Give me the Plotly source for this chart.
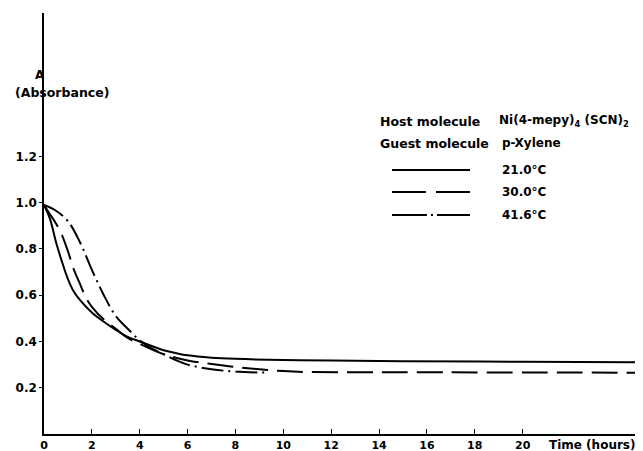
import plotly.graph_objects as go

# ---- data ----
t_21 = [0, 0.25, 0.5, 0.75, 1.0, 1.25, 1.5, 2.0, 2.5, 3.0, 3.5, 4.0, 5.0, 5.5, 6.0, 7.0, 8.0, 10, 12, 15, 20, 25]
a_21 = [0.99, 0.93, 0.83, 0.745, 0.67, 0.615, 0.58, 0.525, 0.485, 0.45, 0.42, 0.40, 0.362, 0.35, 0.34, 0.33, 0.325, 0.32, 0.318, 0.315, 0.312, 0.31]

t_30 = [0, 0.25, 0.5, 0.75, 1.0, 1.25, 1.5, 1.75, 2.0, 2.5, 3.0, 3.5, 4.0, 5.0, 6.0, 7.0, 8.0, 9.0, 10, 11, 15, 25]
a_30 = [0.99, 0.95, 0.91, 0.86, 0.79, 0.71, 0.65, 0.59, 0.55, 0.495, 0.455, 0.415, 0.39, 0.345, 0.318, 0.303, 0.29, 0.28, 0.272, 0.268, 0.267, 0.265]

t_41 = [0, 0.5, 1.0, 1.5, 2.0, 2.5, 3.0, 3.5, 4.0, 4.5, 5.0, 5.5, 6.0, 7.0, 8.0, 9.4]
a_41 = [0.99, 0.965, 0.92, 0.83, 0.71, 0.60, 0.51, 0.455, 0.405, 0.37, 0.345, 0.32, 0.30, 0.28, 0.27, 0.265]

x_ticks = [0, 2, 4, 6, 8, 10, 12, 14, 16, 18, 20]
y_ticks = [0.2, 0.4, 0.6, 0.8, 1.0, 1.2]
y_tick_labels = ["0.2", "0.4", "0.6", "0.8", "1.0", "1.2"]

series_labels = ["21.0°C", "30.0°C", "41.6°C"]
host_label = "Host molecule"
host_value = "Ni(4-mepy)<sub>4</sub> (SCN)<sub>2</sub>"
guest_label = "Guest molecule"
guest_value = "p-Xylene"

FONT = "DejaVu Sans"
dash_30 = "26px,9px"
dash_41 = "22px,5px,2px,5px"
legend_dash_30 = "34px,10px"
legend_dash_41 = "35px,4px,2px,4px"

fig = go.Figure()
fig.add_trace(go.Scatter(x=t_21, y=a_21, mode="lines", line=dict(color="black", width=2, shape="spline"), name=series_labels[0]))
fig.add_trace(go.Scatter(x=t_30, y=a_30, mode="lines", line=dict(color="black", width=2, shape="spline", dash=dash_30), name=series_labels[1]))
fig.add_trace(go.Scatter(x=t_41, y=a_41, mode="lines", line=dict(color="black", width=2, shape="spline", dash=dash_41), name=series_labels[2]))

# page body has an 8px margin; figure sized/offset so the plot lands where the reference's does
W, H = 635, 443
L, R, T, B = 36, 0, 5, 17
X_MAX = 25.03
Y_MAX = 1.82

fig.update_layout(
    width=W, height=H,
    margin=dict(l=L, r=R, t=T, b=B),
    paper_bgcolor="white", plot_bgcolor="white",
    showlegend=False,
    font=dict(family=FONT, size=12, color="black", weight="bold"),
)
fig.update_xaxes(
    range=[0, X_MAX], showgrid=False, zeroline=False, automargin=False,
    showline=True, linecolor="black", linewidth=1.5,
    tickmode="array", tickvals=x_ticks, ticktext=[str(v) for v in x_ticks],
    ticks="inside", ticklen=5, tickcolor="black", tickwidth=1,
    tickfont=dict(family=FONT, size=11, color="black", weight="bold"),
)
fig.update_yaxes(
    range=[0, Y_MAX], showgrid=False, zeroline=False, automargin=False,
    showline=True, linecolor="black", linewidth=1.5,
    tickmode="array", tickvals=y_ticks, ticktext=y_tick_labels,
    ticks="outside", ticklen=3, tickcolor="black", tickwidth=1,
    tickfont=dict(family=FONT, size=12, color="black", weight="bold"),
)

def note(x, y, text, size=12, ref="data"):
    if ref == "paper":
        xr, yr = "paper", "paper"
    else:
        xr, yr = "x", "y"
    fig.add_annotation(x=x, y=y, xref=xr, yref=yr, text=text, showarrow=False,
                       xanchor="left", yanchor="middle",
                       font=dict(family=FONT, size=size, color="black", weight="bold"))

# axis titles (paper coords so they are not hidden outside the axis range)
note(-0.46 / X_MAX, 1.551 / Y_MAX, "A", ref="paper")
note(-1.3 / X_MAX, 1.478 / Y_MAX, "(Absorbance)", size=12.5, ref="paper")
note(21.0 / X_MAX, -0.047 / Y_MAX, "Time (hours)", ref="paper")

# legend block
note(13.96, 1.353, host_label, size=12.5)
note(18.93, 1.353, host_value)
note(13.96, 1.258, guest_label, size=12.5)
note(19.06, 1.258, guest_value)

legend_y = [1.141, 1.046, 0.947]
legend_dash = ["solid", legend_dash_30, legend_dash_41]
for yy, dd, lab in zip(legend_y, legend_dash, series_labels):
    fig.add_shape(type="line", xref="x", yref="y", x0=14.54, x1=17.8, y0=yy, y1=yy,
                  line=dict(color="black", width=2, dash=dd))
    note(19.06, yy, lab)

fig.write_html("out.html")
